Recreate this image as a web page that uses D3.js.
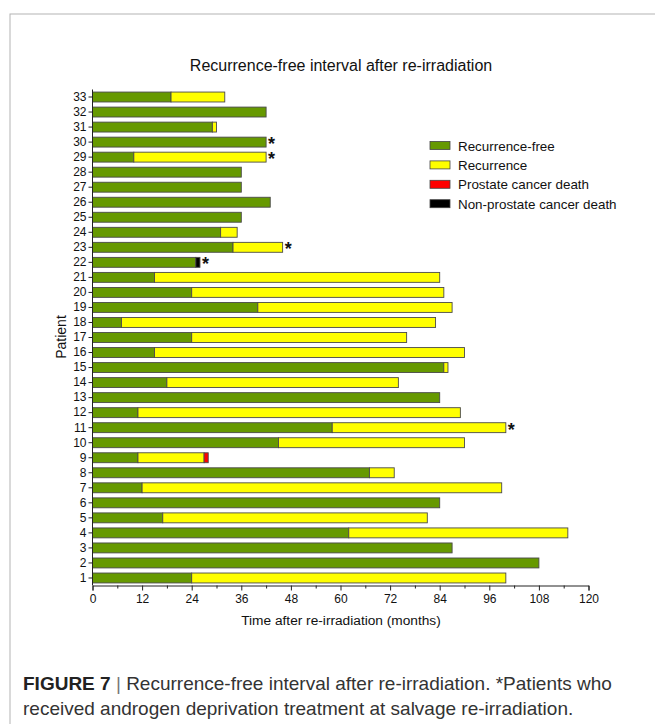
<!DOCTYPE html>
<html lang="en">
<head>
<meta charset="utf-8">
<title>Recurrence-free interval after re-irradiation</title>
<script src="https://d3js.org/d3.v7.min.js"></script>
<style>
  body { margin: 0; background: #fff; }
  svg { display: block; font-family: Arial, "Liberation Sans", sans-serif; }
</style>
</head>
<body>
<div id="viz"></div>
<script>
// patient numbers, bottom to top
var patients = d3.range(1, 34);
// months recurrence-free (green)
var recurrenceFree = [24, 108, 87, 62, 17, 84, 12, 67, 11, 45, 58, 11, 84, 18, 85, 15, 24,
                      7, 40, 24, 15, 25, 34, 31, 36, 43, 36, 36, 10, 42, 29, 42, 19];
// months after recurrence (yellow)
var recurrence = [76, 0, 0, 53, 64, 0, 87, 6, 16, 45, 42, 78, 0, 56, 1, 75, 52,
                  76, 47, 61, 69, 0, 12, 4, 0, 0, 0, 0, 32, 0, 1, 0, 13];
// death markers
var prostateDeath = [0, 0, 0, 0, 0, 0, 0, 0, 1, 0, 0, 0, 0, 0, 0, 0, 0,
                     0, 0, 0, 0, 0, 0, 0, 0, 0, 0, 0, 0, 0, 0, 0, 0];
var otherDeath = [0, 0, 0, 0, 0, 0, 0, 0, 0, 0, 0, 0, 0, 0, 0, 0, 0,
                  0, 0, 0, 0, 1, 0, 0, 0, 0, 0, 0, 0, 0, 0, 0, 0];
// patients with androgen deprivation at salvage re-irradiation
var adtPatients = [11, 22, 23, 29, 30];
var xTicks = d3.range(0, 121, 12);

var keys = ["rf", "rec", "pcd", "npcd"];
var labels = ["Recurrence-free", "Recurrence", "Prostate cancer death", "Non-prostate cancer death"];
var colors = ["#669900", "#ffff00", "#ff0000", "#000000"];

var rows = patients.map(function(p, i) {
  return { patient: p, rf: recurrenceFree[i], rec: recurrence[i], pcd: prostateDeath[i], npcd: otherDeath[i] };
});

var W = 655, H = 724;
var svg = d3.select("#viz").append("svg").attr("width", W).attr("height", H);

// figure frame
svg.append("rect")
   .attr("x", 10).attr("y", 14)
   .attr("width", 680).attr("height", 760)
   .attr("fill", "none").attr("stroke", "#b4b4b4").attr("stroke-width", 1);

var x = d3.scaleLinear().domain([0, 120]).range([92.5, 588.5]);
var y = d3.scaleBand().domain(patients).range([585.5, 89.5])
          .paddingInner(0.34).paddingOuter(0.17);

var stacked = d3.stack().keys(keys)(rows);

var g = svg.append("g");
g.selectAll("g.series")
 .data(stacked)
 .join("g")
   .attr("class", "series")
   .attr("fill", function(d, i) { return colors[i]; })
 .selectAll("rect")
 .data(function(d) { return d.filter(function(v) { return v[1] > v[0]; }); })
 .join("rect")
   .attr("x", function(d) { return x(d[0]); })
   .attr("y", function(d) { return y(d.data.patient); })
   .attr("width", function(d) { return x(d[1]) - x(d[0]); })
   .attr("height", y.bandwidth())
   .attr("stroke", "#4a4a4a")
   .attr("stroke-width", 0.9);

// asterisks
var totals = {};
rows.forEach(function(r) { totals[r.patient] = r.rf + r.rec + r.pcd + r.npcd; });
g.selectAll("text.star")
 .data(adtPatients)
 .join("text")
   .attr("class", "star")
   .attr("x", function(p) { return x(totals[p]) + 2; })
   .attr("y", function(p) { return y(p) + y.bandwidth() / 2 + 8; })
   .attr("font-size", 18)
   .attr("font-weight", "bold")
   .attr("fill", "#111")
   .text("*");

// axes
svg.append("g")
   .attr("transform", "translate(0,585.5)")
   .call(d3.axisBottom(x).tickValues(xTicks).tickSize(5).tickPadding(4));
svg.append("g")
   .attr("transform", "translate(0,585.5)")
   .call(d3.axisBottom(x).tickValues(d3.range(6, 120, 12)).tickSize(3).tickFormat(""))
   .select(".domain").remove();
var yAxis = svg.append("g")
   .attr("transform", "translate(92.5,0)")
   .call(d3.axisLeft(y).tickSize(4).tickPadding(2));
yAxis.select(".domain").attr("d", "M0,89.5V585.5");

svg.selectAll(".tick text").attr("font-size", 12).attr("fill", "#111")
   .attr("font-family", "Arial, 'Liberation Sans', sans-serif");
svg.selectAll(".domain, .tick line").attr("stroke", "#222");

// titles
svg.append("text")
   .attr("x", 341).attr("y", 71)
   .attr("text-anchor", "middle").attr("font-size", 16).attr("fill", "#111")
   .text("Recurrence-free interval after re-irradiation");
svg.append("text")
   .attr("x", 341).attr("y", 625)
   .attr("text-anchor", "middle").attr("font-size", 13.7).attr("fill", "#111")
   .text("Time after re-irradiation (months)");
svg.append("text")
   .attr("transform", "translate(66,337) rotate(-90)")
   .attr("text-anchor", "middle").attr("font-size", 14).attr("fill", "#111")
   .text("Patient");

// legend
var legend = svg.append("g").attr("transform", "translate(430,145.5)");
var li = legend.selectAll("g").data(labels).join("g")
   .attr("transform", function(d, i) { return "translate(0," + (i * 19.4) + ")"; });
li.append("rect")
   .attr("x", 0).attr("y", -4).attr("width", 20).attr("height", 8)
   .attr("fill", function(d, i) { return colors[i]; })
   .attr("stroke", "#444").attr("stroke-width", 0.8);
li.append("text")
   .attr("x", 28).attr("y", 5)
   .attr("font-size", 13.4).attr("fill", "#111")
   .text(function(d) { return d; });

// caption
var cap = svg.append("g").attr("fill", "#333").attr("font-size", 19)
   .attr("font-family", "'Liberation Sans', Arial, sans-serif");
var t1 = cap.append("text").attr("x", 23).attr("y", 690);
t1.append("tspan").attr("font-weight", "bold").attr("fill", "#222").text("FIGURE 7");
t1.append("tspan").attr("fill", "#777").text(" | ");
t1.append("tspan").text("Recurrence-free interval after re-irradiation. *Patients who");
cap.append("text").attr("x", 23).attr("y", 715)
   .text("received androgen deprivation treatment at salvage re-irradiation.");
</script>
</body>
</html>
